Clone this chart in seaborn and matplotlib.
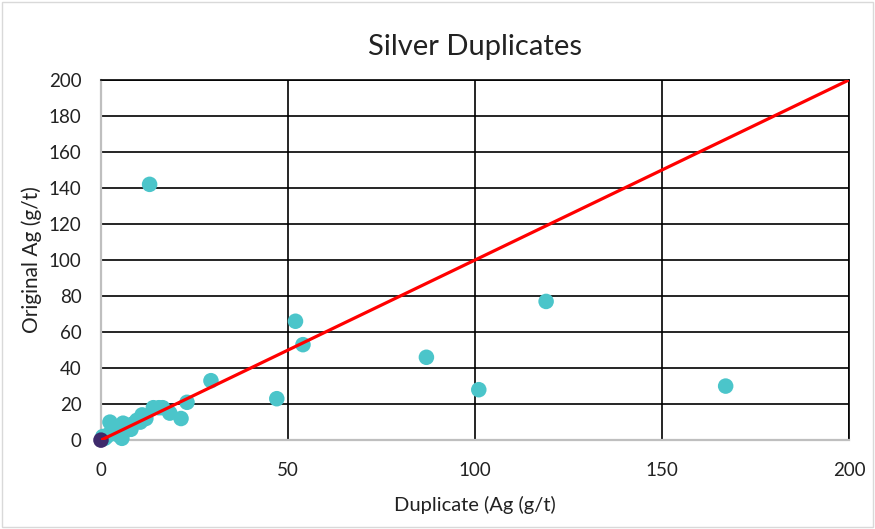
import matplotlib.pyplot as plt
import seaborn as sns
from matplotlib.patches import Rectangle

# duplicate vs original silver assays (g/t)
duplicate = [13, 52, 54, 29.4, 47, 87, 101, 119, 167, 23, 21.4, 18.4, 14, 15.5, 16.5,
             11, 9.6, 10.5, 8, 7, 6, 5.9, 5.6, 5, 4, 3.2, 2.4, 2, 1.5, 1, 0.5, 3,
             4.5, 6.5, 8.5, 12]
original = [142, 66, 53, 33, 23, 46, 28, 77, 30, 21, 12, 15, 18, 18, 18,
            14, 11, 10, 6, 8, 5, 9.4, 1, 7, 6, 4, 10, 3, 2, 1, 2, 8,
            3, 7, 9, 12]
origin_dup = [0]
origin_orig = [0]
line_x = [0, 200]
line_y = [0, 200]

sns.set_style('white')
plt.rcParams['font.family'] = ['Lato', 'DejaVu Sans']

fig = plt.figure(figsize=(8.75, 5.29), dpi=100, facecolor='white')
ax = fig.add_axes([0.1154, 0.168, 0.855, 0.681])

sns.scatterplot(x=duplicate, y=original, s=125, color='#4BC5CA', edgecolor='none',
                ax=ax, zorder=3, clip_on=False)
sns.scatterplot(x=origin_dup, y=origin_orig, s=125, color='#3E2A6B', edgecolor='none',
                ax=ax, zorder=4, clip_on=False)
sns.lineplot(x=line_x, y=line_y, color='#FF0000', linewidth=2.3, ax=ax, zorder=5)

ax.set_xlim(0, 200)
ax.set_ylim(0, 200)
ax.set_xticks(range(0, 201, 50))
ax.set_yticks(range(0, 201, 20))
ax.grid(True, color='black', linewidth=1.2)
ax.set_axisbelow(True)
ax.tick_params(length=0, labelsize=13.5, colors='#222222')
ax.tick_params(axis='y', pad=14)
ax.tick_params(axis='x', pad=16)

for side in ['left', 'bottom']:
    ax.spines[side].set_color('#BFBFBF')
    ax.spines[side].set_linewidth(1.6)
for side in ['top', 'right']:
    ax.spines[side].set_color('black')
    ax.spines[side].set_linewidth(1.2)

ax.set_title('Silver Duplicates', fontsize=21, pad=18, color='#222222')
ax.set_xlabel('Duplicate (Ag (g/t)', fontsize=14.5, labelpad=12, color='#222222')
ax.set_ylabel('Original Ag (g/t)', fontsize=15, labelpad=5, color='#222222')

fig.patches.append(Rectangle((0.002, 0.004), 0.996, 0.992, transform=fig.transFigure,
                             fill=False, edgecolor='#D9D9D9', linewidth=1))

plt.savefig('out.png', dpi=100)
